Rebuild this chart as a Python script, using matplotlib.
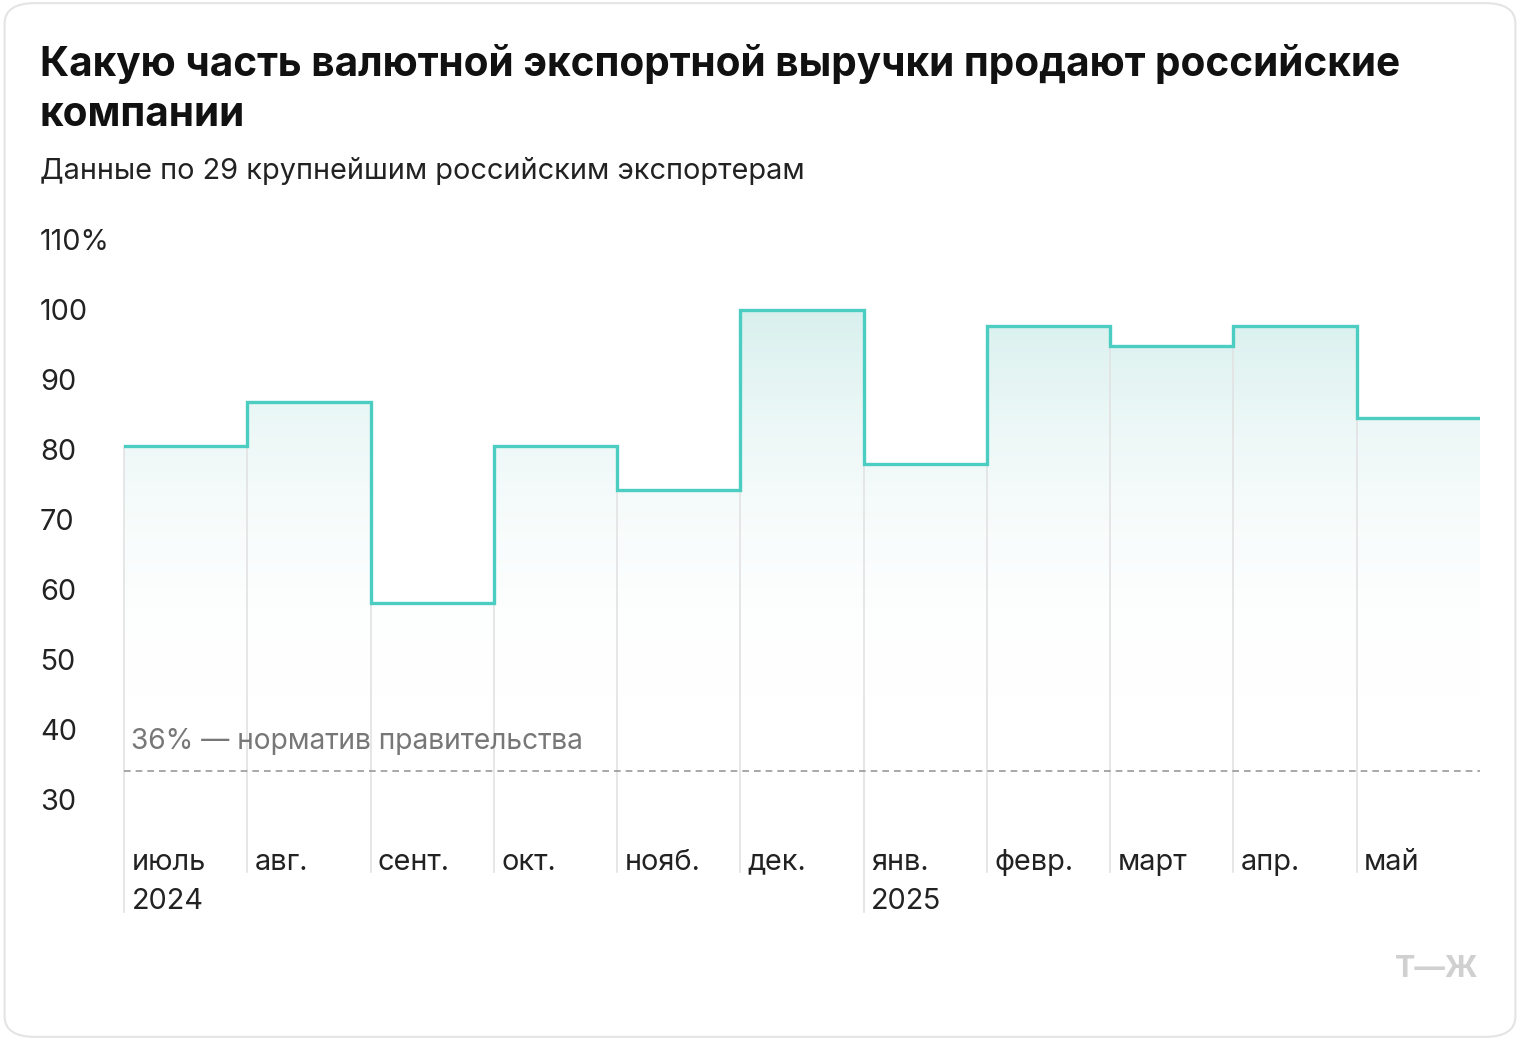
import matplotlib
matplotlib.use("Agg")
import matplotlib.pyplot as plt
import numpy as np
from matplotlib.patches import FancyBboxPatch, Polygon
from matplotlib.transforms import blended_transform_factory
from matplotlib.colors import LinearSegmentedColormap

months = ["июль", "авг.", "сент.", "окт.", "нояб.", "дек.", "янв.", "февр.", "март", "апр.", "май"]
years = {0: "2024", 6: "2025"}
values = [80.9, 87.1, 58.5, 80.9, 74.6, 100.3, 78.3, 98.0, 95.1, 98.0, 84.9]
yticks = [30, 40, 50, 60, 70, 80, 90, 100, 110]
norm_level = 34.5
norm_label = "36% — норматив правительства"

plt.rcParams["font.family"] = "Inter"
fig = plt.figure(figsize=(15.2, 10.4), dpi=100)
fig.patch.set_facecolor("white")
card = FancyBboxPatch((0.003, 0.003), 0.994, 0.994, boxstyle="round,pad=0,rounding_size=0.02",
                      transform=fig.transFigure, facecolor="none", edgecolor="#e4e4e4", lw=1.5, zorder=-5)
fig.patches.append(card)

fig.text(40/1520, 1-64/1040, "Какую часть валютной экспортной выручки продают российские",
         fontsize=29.2, fontweight="bold", va="center", color="#111")
fig.text(40/1520, 1-115/1040, "компании", fontsize=29.2, fontweight="bold", va="center", color="#111")
fig.text(40/1520, 1-171/1040, "Данные по 29 крупнейшим российским экспортерам",
         fontsize=20.8, va="center", color="#222")

ax = fig.add_axes([124/1520, 168/1040, 1356/1520, 640/1040])
ax.set_xlim(0, 11)
ax.set_ylim(20, 111.43)
ax.axis("off")

n = len(values)
fill_bottom = 45
poly_pts = [(0, fill_bottom)]
for i, v in enumerate(values):
    poly_pts += [(i, v), (i + 1, v)]
poly_pts += [(n, fill_bottom)]
poly = Polygon(poly_pts, closed=True, facecolor="none", edgecolor="none")
ax.add_patch(poly)
grad = np.linspace(0, 1, 256).reshape(-1, 1)
cmap = LinearSegmentedColormap.from_list("g", [(1, 1, 1, 0), (0.84, 0.94, 0.93, 1)])
im = ax.imshow(grad, extent=[0, n, fill_bottom, 102], origin="lower", aspect="auto", cmap=cmap, zorder=1)
im.set_clip_path(poly)

for i in range(n):
    top = values[i] if i == 0 else min(values[i], values[i - 1])
    bottom = 20 - 40/7 if i in years else 20
    ax.plot([i, i], [bottom, top], color="#e2e2e2", lw=1.2, zorder=2, clip_on=False)

sx, sy = [], []
for i, v in enumerate(values):
    sx += [i, i + 1]; sy += [v, v]
ax.plot(sx, sy, color="#4ccdc2", lw=2.4, zorder=4, solid_joinstyle="miter")

ax.axhline(norm_level, color="#999", lw=1.2, ls=(0, (4, 3)), zorder=3)
ax.text(0.06, norm_level + 4.2, norm_label, fontsize=20.3, color="#777", va="center")

tr = blended_transform_factory(fig.transFigure, ax.transData)
for t in yticks:
    lab = f"{t}%" if t == 110 else str(t)
    fig.text(40/1520, t, lab, transform=tr, fontsize=20.8, va="center", color="#222")

for i, m in enumerate(months):
    ax.text(i + 0.06, 20 + 10/7, m, fontsize=20.8, va="center", color="#222")
    if i in years:
        ax.text(i + 0.06, 20 - 30/7, years[i], fontsize=20.8, va="center", color="#222")

fig.text(1478/1520, 1-969/1040, "Т—Ж", fontsize=22, fontweight="bold", color="#d0d0d0",
         ha="right", va="center")

fig.savefig("out.png", dpi=100)
